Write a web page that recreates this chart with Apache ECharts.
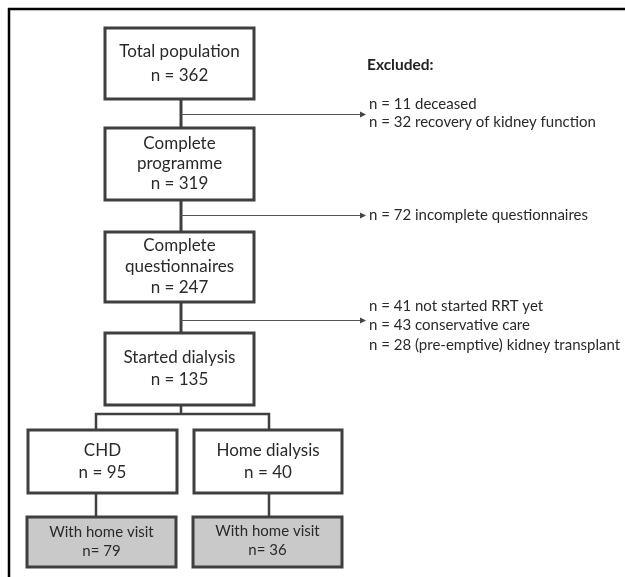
<!DOCTYPE html>
<html>
<head>
<meta charset="utf-8">
<script src="https://cdn.jsdelivr.net/npm/echarts@6/dist/echarts.min.js"></script>
<style>
  html, body { margin: 0; padding: 0; background: #ffffff; }
  #chart { width: 625px; height: 577px; }
</style>
</head>
<body>
<div id="chart"></div>
<script>
// ---------- DATA ----------
const stageLabels = ['Total population', 'Complete\nprogramme', 'Complete\nquestionnaires', 'Started dialysis', 'CHD', 'Home dialysis', 'With home visit', 'With home visit'];
const stageCounts = [362, 319, 247, 135, 95, 40, 79, 36];
const countPrefixes = ['n = ', 'n = ', 'n = ', 'n = ', 'n = ', 'n = ', 'n= ', 'n= '];
const excludedTitle = 'Excluded:';
const exclusionCounts = [[11, 32], [72], [41, 43, 28]];
const exclusionReasons = [
  ['deceased', 'recovery of kidney function'],
  ['incomplete questionnaires'],
  ['not started RRT yet', 'conservative care', '(pre-emptive) kidney transplant']
];

// ---------- LAYOUT (pixel-space units on hidden axes) ----------
const W = 625, H = 577;
const boxLayout = [
  { x0: 105, x1: 254, y0: 28, y1: 99, lh: 24, fs: 17, fill: '#ffffff' },
  { x0: 105, x1: 254, y0: 128, y1: 200, lh: 20, fs: 17, fill: '#ffffff' },
  { x0: 105, x1: 254, y0: 232, y1: 302, lh: 21, fs: 17, fill: '#ffffff' },
  { x0: 105, x1: 254, y0: 333, y1: 405, lh: 22, fs: 17, fill: '#ffffff' },
  { x0: 28, x1: 177, y0: 430, y1: 493, lh: 22, fs: 17, fill: '#ffffff' },
  { x0: 194, x1: 342, y0: 430, y1: 493, lh: 22, fs: 17, fill: '#ffffff' },
  { x0: 27, x1: 176, y0: 517, y1: 567, lh: 19, fs: 15, fill: '#c9c9c9' },
  { x0: 193, x1: 342, y0: 517, y1: 567, lh: 19, fs: 15, fill: '#c9c9c9', dy: -1 }
];
const connectorLayout = [
  { pts: [[181, 99], [181, 128]], w: 3 },
  { pts: [[181, 200], [181, 232]], w: 3 },
  { pts: [[181, 302], [181, 333]], w: 3 },
  { pts: [[181, 405], [181, 414]], w: 2.5 },
  { pts: [[96, 430], [96, 414], [269, 414], [269, 430]], w: 2.5 },
  { pts: [[96, 493], [96, 517]], w: 2.5 },
  { pts: [[269, 493], [269, 517]], w: 2.5 }
];
const exclusionLayout = [
  { arrowY: 114, x0: 181, x1: 366, textX: 369, textY: 104, lh: 18.5 },
  { arrowY: 215, x0: 181, x1: 366, textX: 369, textY: 215, lh: 19 },
  { arrowY: 320, x0: 181, x1: 366, textX: 369, textY: 306, lh: 19.5 }
];
const titlePos = { x: 367, y: 65 };

const FONT = 'Lato, "Open Sans", sans-serif';
const BORDER = '#3f3f3f';
const TEXT = '#2a2a2a';

const chart = echarts.init(document.getElementById('chart'), null, { renderer: 'canvas' });

const option = {
  backgroundColor: '#ffffff',
  animation: false,
  grid: { left: 0, right: 0, top: 0, bottom: 0 },
  xAxis: { type: 'value', min: 0, max: W, show: false },
  yAxis: { type: 'value', min: 0, max: H, inverse: true, show: false },
  graphic: [
    { type: 'line', shape: { x1: 8, y1: 9, x2: 625, y2: 9 }, style: { stroke: '#000', lineWidth: 2.5 }, silent: true },
    { type: 'line', shape: { x1: 9, y1: 8, x2: 9, y2: 577 }, style: { stroke: '#000', lineWidth: 2.5 }, silent: true }
  ],
  series: [
    {
      type: 'custom',
      name: 'connectors',
      silent: true,
      data: connectorLayout.map((c, i) => [c.pts[0][0], c.pts[0][1], i]),
      renderItem: function (params, api) {
        const c = connectorLayout[api.value(2)];
        const pts = c.pts.map(p => api.coord(p));
        return {
          type: 'polyline',
          shape: { points: pts },
          style: { stroke: BORDER, lineWidth: c.w, fill: null, lineJoin: 'miter' }
        };
      },
      z: 1
    },
    {
      type: 'custom',
      name: 'stages',
      silent: true,
      data: stageCounts.map((n, i) => [(boxLayout[i].x0 + boxLayout[i].x1) / 2, (boxLayout[i].y0 + boxLayout[i].y1) / 2, n, i]),
      renderItem: function (params, api) {
        const i = api.value(3);
        const b = boxLayout[i];
        const p0 = api.coord([b.x0, b.y0]);
        const p1 = api.coord([b.x1, b.y1]);
        const c = api.coord([api.value(0), api.value(1)]);
        const txt = stageLabels[i] + '\n' + countPrefixes[i] + api.value(2);
        return {
          type: 'group',
          children: [
            {
              type: 'rect',
              shape: { x: p0[0], y: p0[1], width: p1[0] - p0[0], height: p1[1] - p0[1] },
              style: { fill: b.fill, stroke: BORDER, lineWidth: 3 }
            },
            {
              type: 'text',
              style: {
                x: c[0], y: c[1] + (b.dy || 0),
                text: txt, align: 'center', verticalAlign: 'middle',
                fontFamily: FONT, fontSize: b.fs, lineHeight: b.lh, fill: TEXT
              }
            }
          ]
        };
      },
      z: 2
    },
    {
      type: 'custom',
      name: 'exclusions',
      silent: true,
      data: exclusionCounts.map((arr, i) => [exclusionLayout[i].x1, exclusionLayout[i].arrowY, arr.reduce((a, b) => a + b, 0), i]),
      renderItem: function (params, api) {
        const i = api.value(3);
        const L = exclusionLayout[i];
        const a0 = api.coord([L.x0, L.arrowY]);
        const a1 = api.coord([L.x1, L.arrowY]);
        const t = api.coord([L.textX, L.textY]);
        const lines = exclusionCounts[i].map((n, k) => 'n = ' + n + ' ' + exclusionReasons[i][k]);
        const children = [
          { type: 'line', shape: { x1: a0[0], y1: a0[1] + 0.5, x2: a1[0] - 4, y2: a1[1] + 0.5 }, style: { stroke: '#555', lineWidth: 1 } },
          { type: 'polygon', shape: { points: [[a1[0], a1[1] + 0.5], [a1[0] - 6, a1[1] - 2.5], [a1[0] - 6, a1[1] + 3.5]] }, style: { fill: '#444' } }
        ];
        lines.forEach((s, k) => {
          children.push({
            type: 'text',
            style: {
              x: t[0], y: t[1] + k * L.lh, text: s, align: 'left', verticalAlign: 'middle',
              fontFamily: FONT, fontSize: 15, fill: TEXT
            }
          });
        });
        if (i === 0) {
          const tp = api.coord([titlePos.x, titlePos.y]);
          children.push({
            type: 'text',
            style: {
              x: tp[0], y: tp[1], text: excludedTitle, align: 'left', verticalAlign: 'middle',
              fontFamily: FONT, fontSize: 15.5, fontWeight: 'bold', fill: '#222'
            }
          });
        }
        return { type: 'group', children };
      },
      z: 3
    }
  ]
};

chart.setOption(option);
</script>
</body>
</html>
